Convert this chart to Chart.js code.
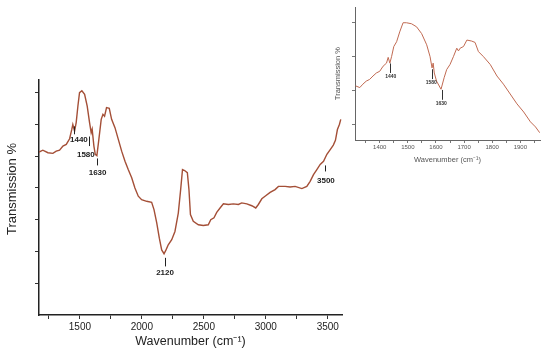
<!DOCTYPE html>
<html>
<head>
<meta charset="utf-8">
<script src="https://cdn.jsdelivr.net/npm/chart.js@4.4.1/dist/chart.umd.min.js"></script>
<style>
  body { margin: 0; background: #fff; width: 550px; height: 353px; position: relative; overflow: hidden; }
  #main { position: absolute; left: 0; top: 0; }
  #inset { position: absolute; left: 330px; top: 0; }
</style>
</head>
<body>
<canvas id="main" width="370" height="353"></canvas>
<canvas id="inset" width="220" height="170"></canvas>
<script>
// main spectrum (wavenumber, transmission in arbitrary units)
let mainWave = [1170, 1201, 1242, 1282, 1309, 1336, 1363, 1390, 1417, 1435, 1443, 1457, 1470, 1484,
  1497, 1516, 1538, 1559, 1578, 1591, 1599, 1613, 1624, 1637, 1653, 1672, 1686, 1699, 1715, 1737,
  1756, 1783, 1810, 1837, 1864, 1890, 1918, 1944, 1971, 1998, 2039, 2079, 2098, 2120, 2141, 2160,
  2179, 2195, 2213, 2241, 2267, 2294, 2313, 2328, 2345, 2367, 2380, 2392, 2415, 2456, 2496, 2536,
  2556, 2582, 2604, 2631, 2658, 2698, 2738, 2779, 2806, 2847, 2887, 2919, 2940, 2968, 2994, 3035,
  3075, 3102, 3156, 3196, 3237, 3291, 3331, 3358, 3385, 3412, 3439, 3466, 3493, 3520, 3545, 3562,
  3578, 3594, 3605]
let mainTrans = [51.3, 51.9, 51.1, 50.9, 51.6, 51.9, 53.2, 53.7, 55.5, 58.5, 60, 57.9, 60.6, 65.8,
  70, 70.6, 69.5, 65.8, 60.6, 57.4, 58.5, 53.2, 50.6, 50.2, 55.3, 61.6, 63.2, 62.6, 65.3, 65.1,
  61.6, 59, 55.3, 51.6, 48.4, 45.8, 43.2, 40, 37.4, 36.3, 35.8, 35.5, 33.2, 29, 24.2, 20.5,
  19.3, 20.5, 22.1, 23.7, 26.3, 32.1, 39.5, 45.8, 45.5, 44.8, 39.5, 31.6, 29.5, 28.4, 28.2, 28.4,
  30, 30.6, 32.3, 33.7, 35, 34.8, 35, 34.8, 35.3, 35, 34.4, 33.7, 34.8, 36.6, 37.4, 38.6,
  39.5, 40.5, 40.5, 40.3, 40.5, 39.8, 40.5, 42.1, 44.2, 45.8, 47.4, 48.4, 50.6, 52.1, 53.5, 55,
  58.4, 60, 61.6]

// inset: zoom on 1310-1970 cm-1
let insetWave = [1314, 1329, 1340, 1352, 1364, 1376, 1388, 1400, 1412, 1424, 1430, 1436, 1442, 1450,
  1460, 1471, 1483, 1495, 1513, 1531, 1549, 1567, 1579, 1586, 1590, 1594, 1602, 1618, 1629, 1638,
  1650, 1662, 1674, 1680, 1686, 1698, 1710, 1727, 1739, 1751, 1769, 1793, 1817, 1840, 1864, 1888,
  1912, 1936, 1954, 1969]
let insetTrans = [1.14, 1.09, 1.19, 1.28, 1.33, 1.43, 1.52, 1.57, 1.72, 1.81, 1.98, 1.81, 2.0, 2.3,
  2.44, 2.73, 3.0, 3.0, 2.97, 2.88, 2.68, 2.35, 2.0, 1.67, 1.81, 1.52, 1.28, 1.04, 1.38, 1.62,
  1.77, 2.0, 2.25, 2.17, 2.25, 2.30, 2.49, 2.46, 2.42, 2.15, 2.0, 1.77, 1.43, 1.19, 0.9, 0.61,
  0.37, 0.08, -0.07, -0.24]

let mainXTicks = [1250, 1500, 1750, 2000, 2250, 2500, 2750, 3000, 3250, 3500]
let mainYTicks = [10, 20, 30, 40, 50, 60, 70]
let insetXTicks = [1350, 1400, 1450, 1500, 1550, 1600, 1650, 1700, 1750, 1800, 1850, 1900, 1950]
let insetYTicks = [0, 1, 2, 3]

// peak marks: label, x of mark, label position, mark top, mark bottom
let mainPeaks = ['1440', '1580', '1630', '2120', '3500']
let mainPeakX = [1456, 1575, 1635, 2184, 3479]
let mainPeakLabelX = [1492, 1548, 1643, 2187, 3485]
let mainPeakLabelY = [55.1, 50.6, 44.9, 13.3, 42.4]
let mainPeakTop = [59.4, 56.2, 49.3, 18, 47.1]
let mainPeakBot = [56.9, 53.2, 47.1, 15.3, 45.2]

let insetPeaks = ['1440', '1580', '1630']
let insetPeakX = [1436, 1587, 1620]
let insetPeakLabelX = [1439, 1583, 1619]
let insetPeakLabelY = [1.42, 1.23, 0.61]
let insetPeakTop = [1.8, 1.63, 1.02]
let insetPeakBot = [1.52, 1.34, 0.73]

const FONT = 'Liberation Sans, Arial, sans-serif'

function points(xs, ys) {
  return xs.map((x, i) => ({x: x, y: ys[i]}))
}

function peakPlugin(labels, xs, lx, ly, top, bot, size, color) {
  return {
    id: 'peaks',
    afterDatasetsDraw(chart) {
      const ctx = chart.ctx, sx = chart.scales.x, sy = chart.scales.y
      ctx.save()
      ctx.strokeStyle = color
      ctx.fillStyle = color
      ctx.lineWidth = 1
      ctx.font = 'bold ' + size + 'px ' + FONT
      ctx.textAlign = 'center'
      ctx.textBaseline = 'middle'
      labels.forEach((t, i) => {
        const px = Math.round(sx.getPixelForValue(xs[i])) + 0.5
        ctx.beginPath()
        ctx.moveTo(px, sy.getPixelForValue(top[i]))
        ctx.lineTo(px, sy.getPixelForValue(bot[i]))
        ctx.stroke()
        ctx.fillText(t, sx.getPixelForValue(lx[i]), sy.getPixelForValue(ly[i]))
      })
      ctx.restore()
    }
  }
}

// y title of the big chart sits a bit above the middle of the axis
const yTitle = {
  id: 'yTitle',
  afterDraw(chart) {
    const ctx = chart.ctx
    ctx.save()
    ctx.translate(12, 189)
    ctx.rotate(-Math.PI / 2)
    ctx.fillStyle = '#222'
    ctx.font = '13px ' + FONT
    ctx.textAlign = 'center'
    ctx.textBaseline = 'middle'
    ctx.fillText('Transmission %', 0, 0)
    ctx.restore()
  }
}

new Chart(document.getElementById('main'), {
  type: 'line',
  data: {
    datasets: [{
      data: points(mainWave, mainTrans),
      borderColor: '#a44f37',
      borderWidth: 1.4,
      pointRadius: 0,
      tension: 0
    }]
  },
  options: {
    responsive: false,
    animation: false,
    layout: { padding: { top: 80, right: 28, left: 0, bottom: 0 } },
    plugins: { legend: { display: false }, tooltip: { enabled: false } },
    scales: {
      x: {
        type: 'linear',
        min: 1170,
        max: 3615,
        afterBuildTicks: s => { s.ticks = mainXTicks.map(v => ({value: v})) },
        afterFit: s => { s.height = 38 },
        ticks: {
          autoSkip: false,
          maxRotation: 0,
          padding: 2,
          color: '#222',
          font: { family: FONT, size: 10 },
          callback: v => (v % 500 === 0 ? String(v) : '')
        },
        grid: { drawOnChartArea: false, drawTicks: true, tickLength: 4, color: '#333' },
        border: { color: '#222', width: 1.5 },
        title: {
          display: true,
          text: 'Wavenumber (cm\u207B\u00B9)',
          color: '#222',
          font: { family: FONT, size: 12.5 },
          padding: { top: 0, bottom: 4 }
        }
      },
      y: {
        min: 0,
        max: 74,
        afterBuildTicks: s => { s.ticks = mainYTicks.map(v => ({value: v})) },
        afterFit: s => { s.width = 39 },
        ticks: { callback: () => '', padding: 0 },
        grid: { drawOnChartArea: false, drawTicks: true, tickLength: 4, color: '#333' },
        border: { color: '#222', width: 1.5 }
      }
    }
  },
  plugins: [yTitle, peakPlugin(mainPeaks, mainPeakX, mainPeakLabelX, mainPeakLabelY, mainPeakTop, mainPeakBot, 8, '#222')]
})

new Chart(document.getElementById('inset'), {
  type: 'line',
  data: {
    datasets: [{
      data: points(insetWave, insetTrans),
      borderColor: '#c06a52',
      borderWidth: 1,
      pointRadius: 0,
      tension: 0
    }]
  },
  options: {
    responsive: false,
    animation: false,
    layout: { padding: { top: 5, right: 10, left: 0, bottom: 0 } },
    plugins: { legend: { display: false }, tooltip: { enabled: false } },
    scales: {
      x: {
        type: 'linear',
        min: 1312,
        max: 1970,
        afterBuildTicks: s => { s.ticks = insetXTicks.map(v => ({value: v})) },
        afterFit: s => { s.height = 30 },
        ticks: {
          autoSkip: false,
          maxRotation: 0,
          padding: 1,
          color: '#555',
          font: { family: FONT, size: 6 },
          callback: v => (v % 100 === 0 ? String(v) : '')
        },
        grid: { drawOnChartArea: false, drawTicks: true, tickLength: 3, color: '#777' },
        border: { color: '#666', width: 1 },
        title: {
          display: true,
          text: 'Wavenumber (cm\u207B\u00B9)',
          color: '#555',
          font: { family: FONT, size: 7.5 },
          padding: { top: 0, bottom: 6 }
        }
      },
      y: {
        min: -0.455,
        max: 3.458,
        afterBuildTicks: s => { s.ticks = insetYTicks.map(v => ({value: v})) },
        afterFit: s => { s.width = 25 },
        ticks: { callback: () => '', padding: 0 },
        grid: { drawOnChartArea: false, drawTicks: true, tickLength: 3, color: '#777' },
        border: { color: '#666', width: 1 },
        title: {
          display: true,
          text: 'Transmission %',
          color: '#555',
          font: { family: FONT, size: 7.5 },
          padding: { top: 3, bottom: 0 }
        }
      }
    }
  },
  plugins: [peakPlugin(insetPeaks, insetPeakX, insetPeakLabelX, insetPeakLabelY, insetPeakTop, insetPeakBot, 5, '#333')]
})
</script>
</body>
</html>
